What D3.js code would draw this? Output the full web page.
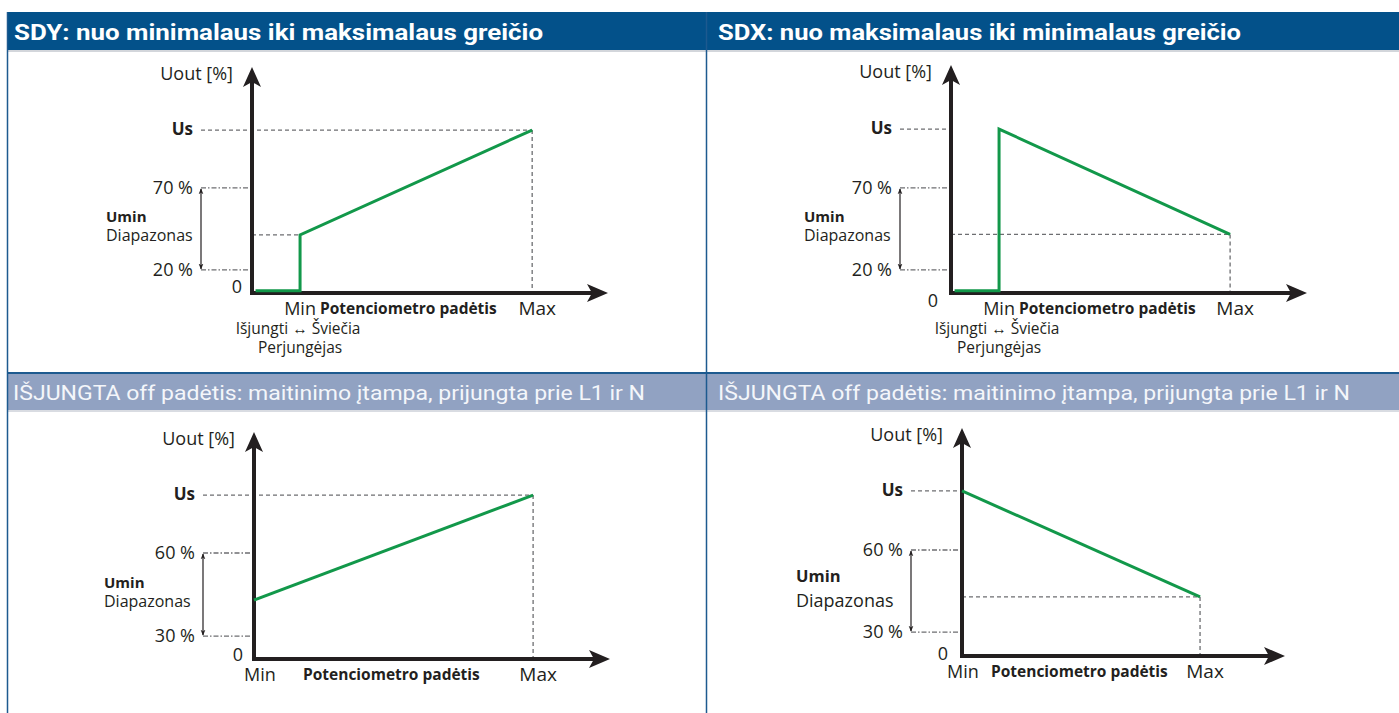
<!DOCTYPE html>
<html>
<head>
<meta charset="utf-8">
<script src="https://cdn.jsdelivr.net/npm/d3@7"></script>
<style>
  body { margin: 0; background: #fff; }
  svg { display: block; }
</style>
</head>
<body>
<svg id="chart" width="1399" height="713"></svg>
<script>
// header texts
const titles = ["SDY: nuo minimalaus iki maksimalaus greičio", "SDX: nuo maksimalaus iki minimalaus greičio"];
const subTitle = "IŠJUNGTA off padėtis: maitinimo įtampa, prijungta prie L1 ir N";

// green curves: x = potentiometer position, y = Uout (both 0..100 of the axis length)
const curveSDY = [[1, 1], [13.5, 1], [13.5, 25.7], [78.7, 72.1]];
const curveSDX = [[1, 1], [13.5, 1], [13.5, 71.9], [78.4, 25.7]];
const curveOffUp = [[0, 26], [78.4, 72.2]];
const curveOffDown = [[0, 72.4], [73.7, 25.9]];

// Us level, Umin range labels and levels, Min / Max positions
const usLevels = [72.1, 71.9, 72.2, 72.4];
const uminLabels = [["70 %", "20 %"], ["70 %", "20 %"], ["60 %", "30 %"], ["60 %", "30 %"]];
const uminLevels = [[46.5, 10.2], [46.1, 10.1], [46.7, 10.1], [46.5, 10.5]];
const minPos = [13.5, 13.5, 0, 0];
const maxPos = [78.7, 78.4, 78.4, 73.7];

const curves = [curveSDY, curveSDX, curveOffUp, curveOffDown];

// where each little diagram sits on the page
const panels = [
    { x0: 252, y0: 293, w: 356, h: 226, zeroDx: -10, zeroDy: 0, captionX: 320, uminDx: -146, bigUmin: false, switchText: true, minDx: 0 },
    { x0: 951, y0: 293, w: 356, h: 228, zeroDx: -13, zeroDy: 14, captionX: 1019, uminDx: -147, bigUmin: false, switchText: true, minDx: 0 },
    { x0: 254, y0: 659, w: 356, h: 227, zeroDx: -11, zeroDy: 2, captionX: 303, uminDx: -150, bigUmin: false, switchText: false, minDx: 6 },
    { x0: 962, y0: 656, w: 323, h: 228, zeroDx: -14, zeroDy: 4, captionX: 991, uminDx: -166, bigUmin: true, switchText: false, minDx: 1 }
];

const green = "#12984a";
const axisCol = "#231f20";
const guideCol = "#6d6e71";
const textCol = "#231f20";
const bodyFont = "'Open Sans', sans-serif";

const svg = d3.select("#chart");

// small arrowheads for the Umin range arrow
const defs = svg.append("defs");
defs.append("marker")
    .attr("id", "tinyArrow")
    .attr("viewBox", "0 0 10 10")
    .attr("refX", 9)
    .attr("refY", 5)
    .attr("markerWidth", 6)
    .attr("markerHeight", 6)
    .attr("markerUnits", "userSpaceOnUse")
    .attr("orient", "auto-start-reverse")
    .append("path")
    .attr("d", "M0,1 L10,5 L0,9 L3,5 Z")
    .attr("fill", axisCol);

// ---- header bands ----
svg.append("rect").attr("x", 7).attr("y", 12).attr("width", 1392).attr("height", 38).attr("fill", "#03518a");
svg.append("rect").attr("x", 7).attr("y", 50).attr("width", 1392).attr("height", 2).attr("fill", "#d3d6db");
svg.append("rect").attr("x", 7).attr("y", 372).attr("width", 1392).attr("height", 2).attr("fill", "#1d5a8f");
svg.append("rect").attr("x", 7).attr("y", 374).attr("width", 1392).attr("height", 36).attr("fill", "#91a2c2");
svg.append("rect").attr("x", 7).attr("y", 410).attr("width", 1392).attr("height", 2).attr("fill", "#d9dce2");

// frame lines
svg.append("line").attr("x1", 7.5).attr("x2", 7.5).attr("y1", 12).attr("y2", 713)
    .attr("stroke", "#1d5a8f").attr("stroke-width", 1.5);
svg.append("line").attr("x1", 706.5).attr("x2", 706.5).attr("y1", 12).attr("y2", 713)
    .attr("stroke", "#1d5a8f").attr("stroke-width", 1.5);

const titleX = [14, 718];
const titleW = [529, 523];
titles.forEach((t, i) => {
    svg.append("text")
        .attr("x", titleX[i])
        .attr("y", 40)
        .attr("fill", "#fff")
        .attr("font-family", "Roboto, sans-serif")
        .attr("font-weight", "bold")
        .attr("font-size", "22px")
        .attr("textLength", titleW[i])
        .attr("lengthAdjust", "spacingAndGlyphs")
        .text(t);
});
[13, 718].forEach(x => {
    svg.append("text")
        .attr("x", x)
        .attr("y", 400)
        .attr("fill", "#f4f6fa")
        .attr("font-family", "Roboto, sans-serif")
        .attr("font-size", "20px")
        .attr("textLength", 632)
        .attr("lengthAdjust", "spacingAndGlyphs")
        .text(subTitle);
});

// ---- draw each diagram ----
panels.forEach((p, i) => {
    const g = svg.append("g");
    const x = d3.scaleLinear().domain([0, 100]).range([p.x0, p.x0 + p.w]);
    const y = d3.scaleLinear().domain([0, 100]).range([p.y0, p.y0 - p.h]);
    const curve = curves[i];
    const last = curve[curve.length - 1];
    const us = usLevels[i];
    const arrowX = p.x0 - 51;

    const dashed = (x1, y1, x2, y2) => g.append("line")
        .attr("x1", x1).attr("y1", y1).attr("x2", x2).attr("y2", y2)
        .attr("stroke", guideCol)
        .attr("stroke-width", 1.3)
        .attr("stroke-dasharray", "4,3");

    // Us guide: to Max when the curve ends there, otherwise only to the axis
    const usEnd = Math.abs(last[1] - us) < 0.5 ? x(last[0]) : x(0);
    dashed(arrowX, y(us), usEnd, y(us));

    // lower guide (from axis to the inner point of the curve)
    curve.filter(d => d[0] > 0 && d[1] > 5 && d[1] < us - 1)
        .forEach(d => dashed(x(0), y(d[1]), x(d[0]), y(d[1])));

    // vertical guide at Max
    dashed(x(last[0]), y(last[1]), x(last[0]), y(0));

    // Umin range guides (dash-dot)
    uminLevels[i].forEach(v => {
        g.append("line")
            .attr("x1", arrowX).attr("x2", x(0))
            .attr("y1", y(v)).attr("y2", y(v))
            .attr("stroke", guideCol)
            .attr("stroke-width", 1.3)
            .attr("stroke-dasharray", "5,2,1.5,2");
    });

    // double arrow for the Umin range
    g.append("line")
        .attr("x1", arrowX).attr("x2", arrowX)
        .attr("y1", y(uminLevels[i][0]) + 1).attr("y2", y(uminLevels[i][1]) - 1)
        .attr("stroke", axisCol)
        .attr("stroke-width", 1.2)
        .attr("marker-start", "url(#tinyArrow)")
        .attr("marker-end", "url(#tinyArrow)");

    // axes with arrowheads
    const tipY = y(100), tipX = x(100);
    g.append("line")
        .attr("x1", p.x0).attr("x2", p.x0)
        .attr("y1", p.y0 + 2).attr("y2", tipY + 14)
        .attr("stroke", axisCol).attr("stroke-width", 4);
    g.append("path")
        .attr("d", `M${p.x0},${tipY} L${p.x0 + 9},${tipY + 20} L${p.x0},${tipY + 15} L${p.x0 - 9},${tipY + 20} Z`)
        .attr("fill", axisCol);
    g.append("line")
        .attr("x1", p.x0 - 2).attr("x2", tipX - 14)
        .attr("y1", p.y0).attr("y2", p.y0)
        .attr("stroke", axisCol).attr("stroke-width", 4);
    g.append("path")
        .attr("d", `M${tipX},${p.y0} L${tipX - 21},${p.y0 - 9} L${tipX - 16},${p.y0} L${tipX - 21},${p.y0 + 9} Z`)
        .attr("fill", axisCol);

    // green curve
    g.append("path")
        .datum(curve)
        .attr("d", d3.line().x(d => x(d[0])).y(d => y(d[1])))
        .attr("fill", "none")
        .attr("stroke", green)
        .attr("stroke-width", 3)
        .attr("stroke-linejoin", "miter");

    // texts
    const txt = (tx, ty, s, size, weight, anchor) => g.append("text")
        .attr("x", tx).attr("y", ty)
        .attr("font-family", bodyFont)
        .attr("font-size", size + "px")
        .attr("font-weight", weight)
        .attr("text-anchor", anchor)
        .attr("fill", textCol)
        .text(s);

    txt(p.x0 - 19, tipY + 13, "Uout [%]", 18, "normal", "end");
    txt(arrowX - 8, y(us) + 5, "Us", 17, "bold", "end");
    uminLabels[i].forEach((s, j) => txt(arrowX - 8, y(uminLevels[i][j]) + 6, s, 18, "normal", "end"));

    const mid = (y(uminLevels[i][0]) + y(uminLevels[i][1])) / 2;
    txt(p.x0 + p.uminDx, mid - (p.bigUmin ? 9 : 7), "Umin", p.bigUmin ? 16.5 : 15, "bold", "start");
    txt(p.x0 + p.uminDx, mid + (p.bigUmin ? 16 : 12), "Diapazonas", p.bigUmin ? 18 : 16, "normal", "start");

    txt(p.x0 + p.zeroDx, p.y0 + p.zeroDy, "0", 18, "normal", "end");
    txt(x(minPos[i]) + p.minDx, p.y0 + 22, "Min", 18, "normal", "middle");
    txt(x(maxPos[i]) + 5, p.y0 + 22, "Max", 19, "normal", "middle");
    txt(p.captionX, p.y0 + 21, "Potenciometro padėtis", 15.5, "bold", "start");

    if (p.switchText) {
        txt(x(minPos[i]) - 2, p.y0 + 41, "Išjungti ↔ Šviečia", 15.5, "normal", "middle");
        txt(x(minPos[i]), p.y0 + 60, "Perjungėjas", 15.5, "normal", "middle");
    }
});
</script>
</body>
</html>
